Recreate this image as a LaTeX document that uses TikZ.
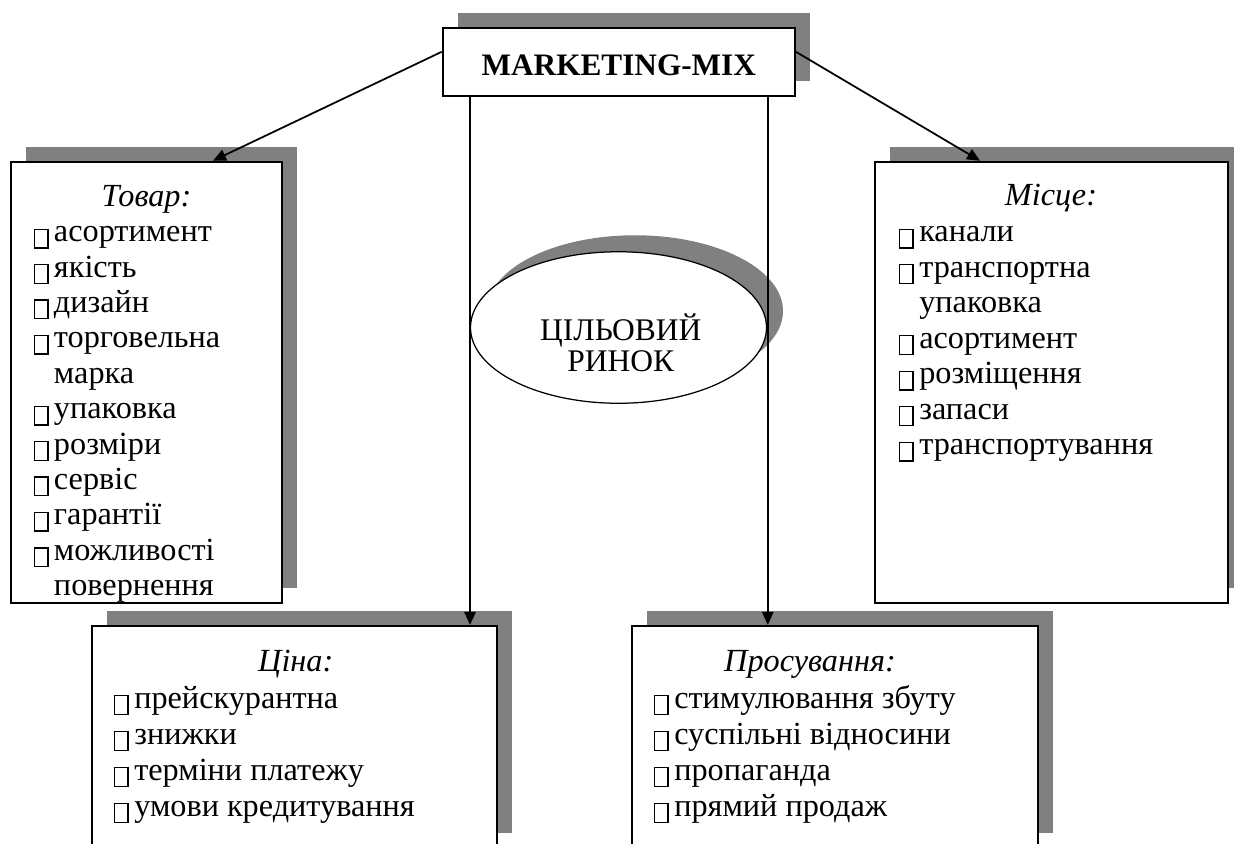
\documentclass[tikz,border=0pt]{standalone}
\usepackage{fontspec}
\setmainfont{Liberation Serif}
\usetikzlibrary{shapes.geometric,shadows,arrows.meta}

% empty square bullet
\newcommand{\sq}{\raisebox{-2.2pt}{\fboxsep=0pt\fboxrule=0.55pt\fbox{\rule{0pt}{6.9pt}\hspace{4.9pt}}}\hspace{2.2pt}}
\newcommand{\nosq}{\hphantom{\sq}}

\tikzset{
  shade box/.style={draw, line width=0.8pt, fill=white, inner sep=0pt,
    drop shadow={shadow xshift=6pt, shadow yshift=6pt, fill=black!50, opacity=1}},
  arr/.style={line width=0.7pt, -{Triangle[length=5.2pt,width=4.6pt]}},
  item/.style={anchor=base west, inner sep=0pt, font=\fontsize{12.9}{14}\selectfont},
  head/.style={anchor=base, inner sep=0pt, font=\fontsize{12.9}{14}\selectfont\itshape},
}

\begin{document}
\begin{tikzpicture}[x=0.4pt,y=-0.4pt]
\useasboundingbox (0,0) rectangle (1234,843);
\clip (0,0) rectangle (1234,843);

% boxes
\node[shade box, minimum width=140.9pt, minimum height=27.1pt, text height=11.4pt,
      font=\fontsize{12.5}{14}\selectfont\bfseries] (mix) at (618.8,61.8) {MARKETING-MIX};
\node[shade box, minimum width=108.6pt, minimum height=176.7pt] (tovar) at (146.5,382.6) {};
\node[shade box, minimum width=141.1pt, minimum height=176.6pt] (misce) at (1051.3,382.5) {};
\node[shade box, minimum width=162.3pt, minimum height=88.8pt] (tsina) at (294.4,736.8) {};
\node[shade box, minimum width=162.3pt, minimum height=88.8pt] (prosuv) at (835.3,736.8) {};

% target market
\node[ellipse, draw, line width=0.5pt, fill=white, inner sep=0pt,
      minimum width=118.4pt, minimum height=60.6pt,
      drop shadow={shadow xshift=6.6pt, shadow yshift=6.6pt, fill=black!50, opacity=1}]
      (rynok) at (618.5,327.5) {};
\node[anchor=base, inner sep=0pt, font=\fontsize{12.6}{14}\selectfont] (rynok-1) at (620.8,340) {ЦІЛЬОВИЙ};
\node[anchor=base, inner sep=0pt, font=\fontsize{12.6}{14}\selectfont] (rynok-2) at (620.8,371.7) {РИНОК};

% arrows
\draw[arr] ([yshift=4pt]mix.west) -- ([xshift=26.6pt]tovar.north);
\draw[arr] ([yshift=4pt]mix.east) -- ([xshift=-28.5pt]misce.north);
\draw[arr] ([xshift=-59.5pt]mix.south) -- ([xshift=-59.5pt]mix.south |- tsina.north);
\draw[arr] ([xshift=59.6pt]mix.south) -- ([xshift=59.6pt]mix.south |- prosuv.north);

% texts
\node[head] (tovar-h) at (146.5,206) {Товар:};
\foreach \t [count=\i from 0] in {\sq асортимент, \sq якість, \sq дизайн,
    \sq торговельна, \nosq марка, \sq упаковка, \sq розміри, \sq сервіс,
    \sq гарантії, \sq можливості, \nosq повернення}
  \node[item] (tovar-\i) at (33,241.7+35.4*\i) {\t};

\node[head] (misce-h) at (1051,205) {Місце:};
\foreach \t [count=\i from 0] in {\sq канали, \sq транспортна, \nosq упаковка,
    \sq асортимент, \sq розміщення, \sq запаси, \sq транспортування}
  \node[item] (misce-\i) at (898.3,241.7+35.5*\i) {\t};

\node[head] (tsina-h) at (295.8,671.7) {Ціна:};
\foreach \t [count=\i from 0] in {\sq прейскурантна, \sq знижки,
    \sq терміни платежу, \sq умови кредитування}
  \node[item] (tsina-\i) at (113.3,708+36*\i) {\t};

\node[head] (prosuv-h) at (810,671.7) {Просування:};
\foreach \t [count=\i from 0] in {\sq стимулювання збуту, \sq суспільні відносини,
    \sq пропаганда, \sq прямий продаж}
  \node[item] (prosuv-\i) at (653.3,708+36*\i) {\t};
\end{tikzpicture}
\end{document}
